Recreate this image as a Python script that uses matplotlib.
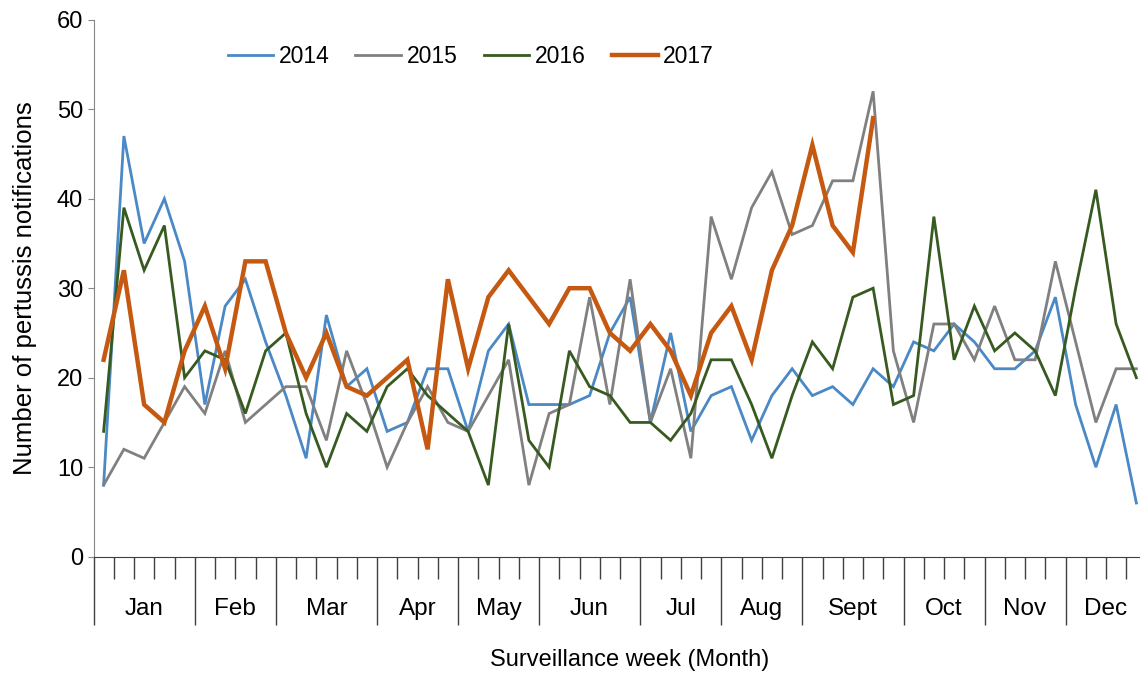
import matplotlib.pyplot as plt
import numpy as np

plt.rcParams['font.family'] = ['Liberation Sans', 'DejaVu Sans']

# weekly pertussis notifications
years = ['2014', '2015', '2016', '2017']
cases_2014 = [8, 47, 35, 40, 33, 17, 28, 31, 24, 18, 11, 27, 19, 21, 14, 15, 21, 21, 14, 23,
              26, 17, 17, 17, 18, 25, 29, 15, 25, 14, 18, 19, 13, 18, 21, 18, 19, 17, 21, 19,
              24, 23, 26, 24, 21, 21, 23, 29, 17, 10, 17, 6]
cases_2015 = [8, 12, 11, 15, 19, 16, 23, 15, 17, 19, 19, 13, 23, 17, 10, 15, 19, 15, 14, 18,
              22, 8, 16, 17, 29, 17, 31, 15, 21, 11, 38, 31, 39, 43, 36, 37, 42, 42, 52, 23,
              15, 26, 26, 22, 28, 22, 22, 33, 24, 15, 21, 21]
cases_2016 = [14, 39, 32, 37, 20, 23, 22, 16, 23, 25, 16, 10, 16, 14, 19, 21, 18, 16, 14, 8,
              26, 13, 10, 23, 19, 18, 15, 15, 13, 16, 22, 22, 17, 11, 18, 24, 21, 29, 30, 17,
              18, 38, 22, 28, 23, 25, 23, 18, 30, 41, 26, 20]
cases_2017 = [22, 32, 17, 15, 23, 28, 21, 33, 33, 25, 20, 25, 19, 18, 20, 22, 12, 31, 21, 29,
              32, 29, 26, 30, 30, 25, 23, 26, 23, 18, 25, 28, 22, 32, 37, 46, 37, 34, 49]

months = ['Jan', 'Feb', 'Mar', 'Apr', 'May', 'Jun', 'Jul', 'Aug', 'Sept', 'Oct', 'Nov', 'Dec']
weeks_per_month = [5, 4, 5, 4, 4, 5, 4, 4, 5, 4, 4, 4]

colors = {'2014': '#4a89c5', '2015': '#808080', '2016': '#375a21', '2017': '#c65911'}
widths = {'2014': 2.0, '2015': 2.0, '2016': 2.0, '2017': 3.2}
series = {'2014': cases_2014, '2015': cases_2015, '2016': cases_2016, '2017': cases_2017}

W, H = 1140, 673
fig = plt.figure(figsize=(W / 100, H / 100), dpi=100)
ax = fig.add_axes([93.5 / W, (H - 556.7) / H, 1053 / W, 537 / H])

for yr in years:
    vals = series[yr]
    ax.plot(np.arange(len(vals)), vals, color=colors[yr], lw=widths[yr], label=yr,
            solid_joinstyle='miter')

n_weeks = sum(weeks_per_month)
ax.set_xlim(-0.5, n_weeks - 0.5)
ax.set_ylim(0, 60)
ax.set_yticks(range(0, 61, 10))
ax.tick_params(axis='y', labelsize=17, length=4, color='#868686', pad=3.5)

# month boundaries as long ticks, week boundaries as short ticks
bounds = np.concatenate([[0], np.cumsum(weeks_per_month)]) - 0.5
ax.set_xticks(bounds)
ax.set_xticks(np.arange(n_weeks + 1) - 0.5, minor=True)
ax.tick_params(axis='x', which='major', length=49, color='#404040', width=1, labelbottom=False)
ax.tick_params(axis='x', which='minor', length=16, color='#404040', width=1)

centers = (bounds[:-1] + bounds[1:]) / 2
for m, c in zip(months, centers):
    ax.text(c, -0.097, m, transform=ax.get_xaxis_transform(), ha='center', va='center', fontsize=17.5)

ax.spines['top'].set_visible(False)
ax.spines['right'].set_visible(False)
ax.spines['left'].set_color('#868686')
ax.spines['bottom'].set_color('#404040')

fig.text(25 / W, 1 - 288 / H, 'Number of pertussis notifications', rotation=90,
         ha='center', va='center', fontsize=18.5)
fig.text(630 / W, 1 - 660 / H, 'Surveillance week (Month)', ha='center', va='center', fontsize=17)

ax.legend(loc='center left', bbox_to_anchor=(134 / 1053, (557 - 57) / 537), ncol=4, frameon=False,
          fontsize=16.5, handlelength=2.0, handletextpad=0.25, columnspacing=1.12,
          borderaxespad=0, borderpad=0)

fig.savefig('out.png', dpi=100)
